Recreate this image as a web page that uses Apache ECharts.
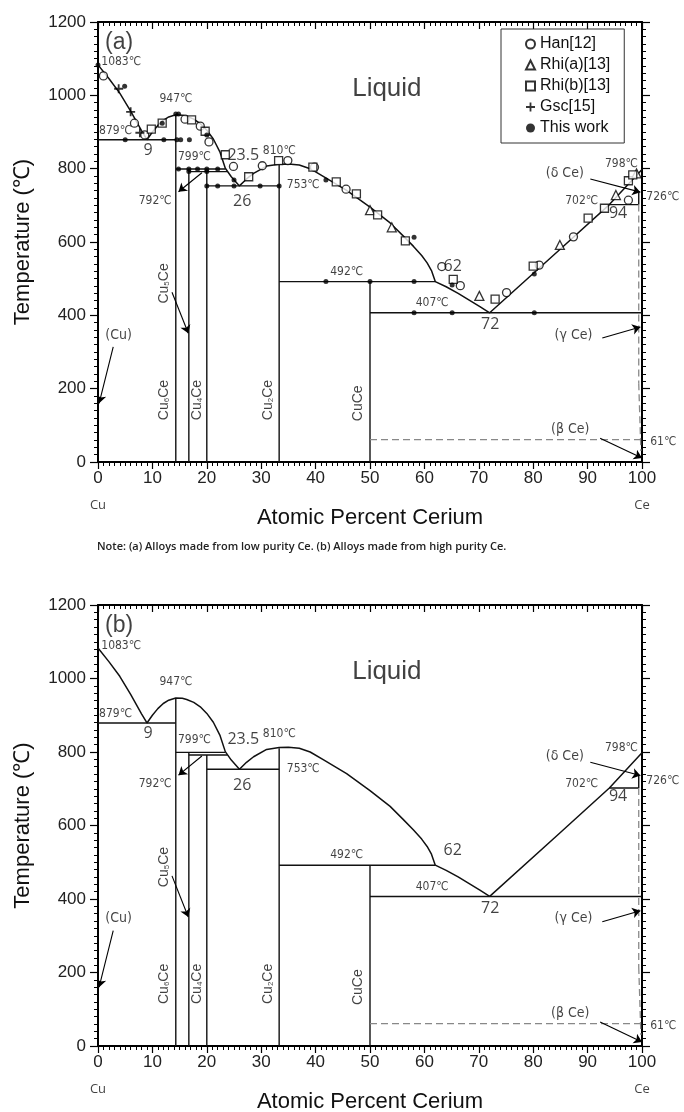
<!DOCTYPE html>
<html>
<head>
<meta charset="utf-8">
<script src="https://cdn.jsdelivr.net/npm/echarts@6/dist/echarts.min.js"></script>
<style>
html, body { margin: 0; padding: 0; background: #fff; }
#chart { width: 684px; height: 1112px; }
</style>
</head>
<body>
<div id="chart"></div>
<script>
// Cu-Ce phase diagram (at.% Ce, deg C)
var liquidus = [[0,1083],[2,1046],[4,1006],[6,957],[8,904],[9,879],[10,900],[11,918],[12,932],[13,941],[14.3,947],
    [15.5,946],[16.3,943],[17.6,935],[18.8,923],[20,905],[21.2,881],[22.4,846],[23.4,801],[24.5,778],[26,753],
    [27.3,772],[28.6,787],[31,807],[33.3,812],[35,813],[37,810],[39,800],[41.4,779],[45.7,741],[50,695],
    [53.7,652],[56,618],[58,588],[59.5,563],[60.5,543],[61.3,522],[62,492],[64,478],[66.2,460],[70.2,424],[72,407],
    [85,581],[94,702],[100,798]];

var tieLines = [
    [[0,879],[14.3,879]],
    [[14.3,799],[23.4,799]],
    [[16.7,792],[23.8,792]],
    [[20,753],[33.3,753]],
    [[33.3,492],[62,492]],
    [[50,407],[100,407]],
    [[94,702],[99.4,702]],
    [[99.4,702],[99.4,735]]
];

var compoundLines = [
    [[14.3,0],[14.3,947]],
    [[16.7,0],[16.7,799]],
    [[20,0],[20,792]],
    [[33.3,0],[33.3,810]],
    [[50,0],[50,492]]
];

var dashedLines = [
    [[50,61],[100,61]],
    [[99.4,702],[99.4,215]],
    [[99.4,215],[99.8,30]]
];

var arrows = [
    [[2.8,314],[0.2,160]],
    [[13.6,463],[16.6,351]],
    [[19.1,789],[14.8,737]],
    [[92.7,338],[99.7,368]],
    [[92.3,65],[100,11]],
    [[90.5,772],[99.7,736]]
];

// measured points (panel a only)
var hanData = [[1,1053],[6.7,924],[8.6,892],[16,935],[18.8,916],[20.4,873],[24.9,806],[30.2,808],[34.9,822],
    [39.8,804],[45.6,744],[63.2,533],[66.6,481],[75.1,462],[81.1,537],[87.4,614],[97.5,714]];
var rhiAData = [[50,687],[54,640],[70.1,453],[84.9,592],[95.2,728],[99,787]];
var rhiBData = [[9.8,908],[11.8,924],[17.2,933],[19.7,902],[23.4,838],[27.7,778],[33.2,822],[39.5,804],[43.8,764],
    [47.5,731],[51.4,674],[56.5,603],[65.3,498],[73,444],[80,534],[90.1,665],[93.1,692],[97.5,767],[98.3,783]];
var gscData = [[3.8,1018],[6,955],[7.7,898]];
var thisWorkData = [[0,1083],[4.9,1025],[11.8,924],[14.3,949],[14.8,949],[20,892],
    [5,879],[12.1,879],[14.5,879],[15.2,879],[16.8,879],
    [14.8,799],[16.7,799],[18.3,799],[20,799],[22,799],[16.7,792],[20,792],
    [20,753],[22,753],[25,753],[29.8,753],[33.3,753],[25,769],[41.9,769],[58.1,613],
    [41.9,492],[50,492],[58.1,492],[58.1,407],[65.1,407],[80.2,407],[65.1,483],[80.2,513]];

// text annotations: [x, y, text, kind]
var notes = [
    [0.6,1090,'1083℃','tl'], [14.3,990,'947℃','t'], [0.2,903,'879℃','tl'], [9.2,851,'9','n'],
    [17.7,833,'799℃','t'], [26.7,835,'23.5','n'], [33.3,848,'810℃','t'], [10.5,712,'792℃','t'],
    [34.7,755,'753℃','tl'], [26.5,710,'26','n'], [45.7,519,'492℃','t'], [65.2,532,'62','n'],
    [61.4,433,'407℃','t'], [72.1,374,'72','n'], [87.4,346,'(γ Ce)','p'], [86.8,88,'(β Ce)','p'],
    [101.5,55,'61℃','tl'], [88.9,713,'702℃','t'], [95.6,678,'94','n'], [96.2,812,'798℃','t'],
    [85.8,787,'(δ Ce)','p'], [100.8,722,'726℃','tl'], [3.8,346,'(Cu)','p'],
    [12.1,487,'{a|Cu}{s|5}{a|Ce}','c'], [12.1,169,'{a|Cu}{s|6}{a|Ce}','c'], [18.2,169,'{a|Cu}{s|4}{a|Ce}','c'],
    [31.3,169,'{a|Cu}{s|2}{a|Ce}','c'], [47.9,160,'{a|CuCe}','c'], [53.1,1019,'Liquid','big'],
    [0,-117,'Cu','e'], [100,-117,'Ce','e']
];
var panelTags = ['(a)', '(b)'];

var narrow = '"Liberation Sans Narrow", "DejaVu Sans Condensed", Arial, sans-serif';
var arial = 'Arial, "Liberation Sans", sans-serif';
var kinds = {
    t: { fontSize: 12, fontFamily: narrow, align: 'center' },
    tl: { fontSize: 12, fontFamily: narrow, align: 'left' },
    n: { fontSize: 16, fontFamily: '"Open Sans", sans-serif', align: 'center' },
    p: { fontSize: 14, fontFamily: narrow, align: 'center' },
    c: { fontSize: 14, fontFamily: arial, align: 'center', rotate: 90 },
    big: { fontSize: 26, fontFamily: arial, align: 'center' },
    e: { fontSize: 13, fontFamily: '"Open Sans", sans-serif', align: 'center' },
    tag: { fontSize: 23, fontFamily: arial, align: 'left' }
};

var chart = echarts.init(document.getElementById('chart'));

function lineSeries(g, pts, style) {
    return {
        type: 'line', xAxisIndex: g * 2, yAxisIndex: g * 2, data: pts,
        showSymbol: false, symbol: 'none', silent: true, z: 2,
        lineStyle: style
    };
}

function panelSeries(g) {
    var s = [];
    s.push(lineSeries(g, liquidus, { color: '#111', width: 1.5 }));
    tieLines.concat(compoundLines).forEach(function (p) {
        s.push(lineSeries(g, p, { color: '#111', width: 1.4 }));
    });
    dashedLines.forEach(function (p) {
        s.push(lineSeries(g, p, { color: '#888', width: 1.3, type: [7, 4] }));
    });
    s.push({
        type: 'lines', coordinateSystem: 'cartesian2d', xAxisIndex: g * 2, yAxisIndex: g * 2,
        data: arrows.map(function (a) { return { coords: a }; }),
        symbol: ['none', 'arrow'], symbolSize: 8, silent: true, z: 3,
        lineStyle: { color: '#000', width: 1.1, opacity: 1, curveness: 0 }
    });
    var labelData = notes.map(function (n) {
        var k = kinds[n[3]];
        return {
            value: [n[0], n[1]],
            label: {
                show: true, position: 'inside', formatter: n[2], color: '#111',
                fontSize: k.fontSize, fontFamily: k.fontFamily, align: k.align,
                verticalAlign: 'middle', rotate: k.rotate || 0,
                rich: {
                    a: { fontSize: 14, fontFamily: k.fontFamily, color: '#111' },
                    s: { fontSize: 8, fontFamily: k.fontFamily, color: '#111', padding: [0, 0, -6, 0] }
                }
            }
        };
    });
    labelData.push({
        value: [1.3, 1143],
        label: { show: true, position: 'inside', formatter: panelTags[g], color: '#111',
            fontSize: kinds.tag.fontSize, fontFamily: kinds.tag.fontFamily, align: 'left', verticalAlign: 'middle' }
    });
    s.push({
        type: 'scatter', xAxisIndex: g * 2, yAxisIndex: g * 2, symbolSize: 0, clip: false,
        silent: true, z: 5, data: labelData
    });
    return s;
}

var plus = 'path://M4,0L6,0L6,4L10,4L10,6L6,6L6,10L4,10L4,6L0,6L0,4L4,4Z';
var open = { color: '#fff', borderColor: '#000', borderWidth: 1.3 };
var markers = [
    { name: 'Han[12]', type: 'scatter', data: hanData, symbol: 'circle', symbolSize: 8, itemStyle: open },
    { name: 'Rhi(a)[13]', type: 'scatter', data: rhiAData, symbol: 'triangle', symbolSize: 9, itemStyle: open },
    { name: 'Rhi(b)[13]', type: 'scatter', data: rhiBData, symbol: 'rect', symbolSize: 8, itemStyle: open },
    { name: 'Gsc[15]', type: 'scatter', data: gscData, symbol: plus, symbolSize: 9, itemStyle: { color: '#000' } },
    { name: 'This work', type: 'scatter', data: thisWorkData, symbol: 'circle', symbolSize: 5, itemStyle: { color: '#000' } }
];
markers.forEach(function (m) { m.xAxisIndex = 0; m.yAxisIndex = 0; m.z = 4; m.silent = true; });

var axisLine = { show: true, onZero: false, lineStyle: { color: '#000', width: 2 } };
var tickFont = { fontSize: 17, color: '#222', fontFamily: arial };

function xAx(g, top) {
    return {
        type: 'value', gridIndex: g, position: top ? 'top' : 'bottom', min: 0, max: 100, interval: 10,
        axisLine: axisLine, splitLine: { show: false },
        axisTick: { show: true, inside: !!top, length: 7, lineStyle: { color: '#000', width: 1.2 } },
        minorTick: { show: true, splitNumber: 10, length: 4, lineStyle: { color: '#000', width: 1 } },
        axisLabel: top ? { show: false } : Object.assign({ margin: 8 }, tickFont),
        name: top ? '' : 'Atomic Percent Cerium', nameLocation: 'middle', nameGap: 45,
        nameTextStyle: { fontSize: 22, color: '#111', fontFamily: arial }
    };
}
function yAx(g, right) {
    return {
        type: 'value', gridIndex: g, position: right ? 'right' : 'left', min: 0, max: 1200, interval: 200,
        axisLine: axisLine, splitLine: { show: false },
        axisTick: { show: true, inside: false, length: 8, lineStyle: { color: '#000', width: 1.2 } },
        minorTick: { show: true, splitNumber: 10, length: 4, lineStyle: { color: '#000', width: 1 } },
        axisLabel: right ? { show: false } : Object.assign({
            margin: 12, formatter: function (v) { return String(v); }
        }, tickFont),
        name: right ? '' : 'Temperature (℃)', nameLocation: 'middle', nameGap: 64,
        nameTextStyle: { fontSize: 22, color: '#111', fontFamily: arial }
    };
}

chart.setOption({
    animation: false,
    backgroundColor: '#fff',
    grid: [
        { left: 98, top: 22, width: 544, height: 440, outerBoundsMode: 'none' },
        { left: 98, top: 605, width: 544, height: 441, outerBoundsMode: 'none' }
    ],
    xAxis: [xAx(0, false), xAx(0, true), xAx(1, false), xAx(1, true)],
    yAxis: [yAx(0, false), yAx(0, true), yAx(1, false), yAx(1, true)],
    legend: {
        data: markers.map(function (m) { return m.name; }),
        orient: 'vertical', left: 501, top: 29,
        padding: [7, 14, 7, 24], itemGap: 5, itemWidth: 9, itemHeight: 9, itemTextGap: 19,
        borderColor: '#333', borderWidth: 1, borderRadius: 0, backgroundColor: '#fff',
        textStyle: { fontSize: 16, color: '#111', fontFamily: arial }
    },
    graphic: [{
        type: 'text', left: 97, top: 541,
        style: {
            text: 'Note: (a) Alloys made from low purity Ce. (b) Alloys made from high purity Ce.',
            fontSize: 11, fontWeight: 600, fill: '#222', fontFamily: '"Open Sans", sans-serif'
        }
    }],
    series: panelSeries(0).concat(markers).concat(panelSeries(1))
});
</script>
</body>
</html>
